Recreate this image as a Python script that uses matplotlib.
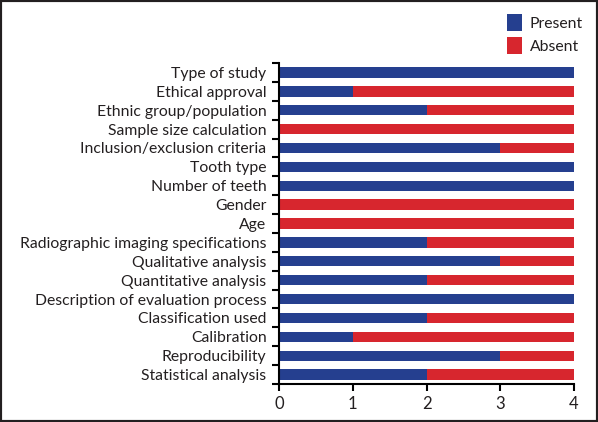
import matplotlib.pyplot as plt
import numpy as np
from matplotlib.patches import Rectangle

categories = ['Type of study', 'Ethical approval', 'Ethnic group/population',
              'Sample size calculation', 'Inclusion/exclusion criteria',
              'Tooth type', 'Number of teeth', 'Gender', 'Age',
              'Radiographic imaging specifications', 'Qualitative analysis',
              'Quantitative analysis', 'Description of evaluation process',
              'Classification used', 'Calibration', 'Reproducibility',
              'Statistical analysis']
present = [4, 1, 2, 0, 3, 4, 4, 0, 0, 2, 3, 2, 4, 2, 1, 3, 2]
absent = [0, 3, 2, 4, 1, 0, 0, 4, 4, 2, 1, 2, 0, 2, 3, 1, 2]

blue = '#253f8f'
red = '#d7262e'

plt.rcParams['font.family'] = 'Lato'

fig = plt.figure(figsize=(5.98, 4.22), dpi=100)
ax = fig.add_axes([0.4666, 0.090, 0.4933, 0.7607])

y = np.arange(len(categories))
ax.barh(y, present, height=0.55, color=blue, label='Present')
ax.barh(y, absent, left=present, height=0.55, color=red, label='Absent')

ax.set_ylim(len(categories) - 0.5, -0.5)
ax.set_xlim(0, 4)
ax.set_yticks(y)
ax.set_yticklabels(categories, fontsize=11.3, color='#231f20')
ax.set_yticks(np.arange(-0.5, len(categories)), minor=True)
ax.tick_params(axis='y', which='major', length=0, pad=9)
ax.tick_params(axis='y', which='minor', length=5, width=1.5)
ax.set_xticks([0, 1, 2, 3, 4])
ax.tick_params(axis='x', length=5, width=1.5, labelsize=12, labelcolor='#231f20')

for s in ['top', 'right']:
    ax.spines[s].set_visible(False)
for s in ['left', 'bottom']:
    ax.spines[s].set_linewidth(1.5)

fig.legend(loc='upper right', bbox_to_anchor=(0.998, 1.0), frameon=False,
           fontsize=11.3, handlelength=0.95, handleheight=1.3, handletextpad=0.5,
           labelspacing=0.35, labelcolor='#231f20')

fig.patches.append(Rectangle((0, 0), 1, 1, transform=fig.transFigure,
                             fill=False, edgecolor='#231f20', linewidth=3))

fig.savefig('out.png', dpi=100)
